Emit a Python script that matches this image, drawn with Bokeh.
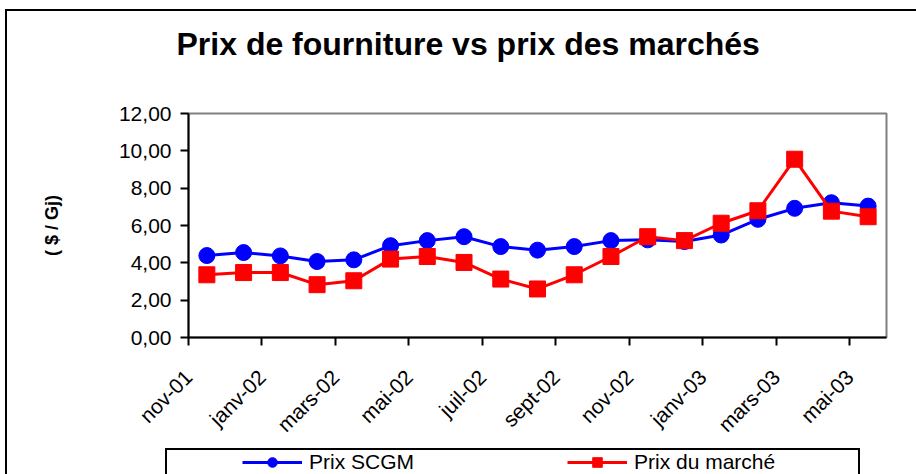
from math import pi
from bokeh.plotting import figure
from bokeh.layouts import column
from bokeh.models import (FixedTicker, Legend, LegendItem, Range1d, Title,
                          InlineStyleSheet)
from bokeh.embed import file_html
from bokeh.resources import INLINE

# ---- data ----
months = ["nov-01", "déc-01", "janv-02", "févr-02", "mars-02", "avr-02", "mai-02",
          "juin-02", "juil-02", "août-02", "sept-02", "oct-02", "nov-02", "déc-02",
          "janv-03", "févr-03", "mars-03", "avr-03", "mai-03"]
prix_scgm = [4.39, 4.55, 4.37, 4.07, 4.16, 4.92, 5.19, 5.40, 4.87, 4.68,
             4.87, 5.19, 5.23, 5.14, 5.49, 6.33, 6.92, 7.22, 7.04]
prix_marche = [3.36, 3.48, 3.48, 2.83, 3.04, 4.20, 4.34, 4.02, 3.13, 2.60,
               3.36, 4.34, 5.40, 5.19, 6.12, 6.79, 9.55, 6.77, 6.47]
y_ticks = [0, 2, 4, 6, 8, 10, 12]
y_tick_labels = ["0,00", "2,00", "4,00", "6,00", "8,00", "10,00", "12,00"]
series_names = ["Prix SCGM", "Prix du marché"]
title_text = "Prix de fourniture vs prix des marchés"
y_label = "( $ / Gj)"

FONT = "Liberation Sans"
n = len(months)
xs = [i + 0.5 for i in range(n)]
x_ticks = list(range(0, n, 2))

css_chart = """
:host { position: relative; overflow: hidden; }
:host::before { content: ""; position: absolute; left: 5px; top: 9px;
  width: 1000px; height: 1000px; border: 2px solid black; pointer-events: none; z-index: 10; }
"""
css_legend = """
:host { position: relative; overflow: hidden; }
:host::before { content: ""; position: absolute; left: 5px; top: -10px;
  width: 1000px; height: 1000px; border: 2px solid black; pointer-events: none; z-index: 10; }
:host::after { content: ""; position: absolute; left: 165px; top: 1px;
  width: 695px; height: 100px; border: 2px solid black; pointer-events: none; z-index: 10; }
"""

# ---- main chart ----
p = figure(width=916, height=447, output_backend="svg", toolbar_location=None,
           x_range=Range1d(0, n), y_range=Range1d(0, 12),
           min_border_left=188, min_border_right=30, min_border_top=113,
           min_border_bottom=109, background_fill_color="white",
           border_fill_color="white",
           stylesheets=[InlineStyleSheet(css=css_chart)])
p.grid.visible = False
p.outline_line_color = "#808080"
p.outline_line_width = 2

p.title.text = title_text
p.title.text_font = FONT
p.title.text_font_size = "32px"
p.title.text_font_style = "bold"
p.title.text_color = "black"
p.title.align = "left"
p.title.offset = -12
p.title.vertical_align = "bottom"
p.title.standoff = 0
p.add_layout(Title(text=" ", text_font_size="10px", standoff=39), "above")

p.yaxis.ticker = FixedTicker(ticks=y_ticks)
p.yaxis.major_label_overrides = dict(zip(y_ticks, y_tick_labels))
p.xaxis.ticker = FixedTicker(ticks=x_ticks)
p.xaxis.major_label_overrides = {t: months[t] for t in x_ticks}
p.xaxis.major_label_orientation = pi / 4
for ax in (p.xaxis[0], p.yaxis[0]):
    ax.axis_line_color = "black"
    ax.axis_line_width = 2
    ax.major_tick_line_color = "black"
    ax.major_tick_line_width = 2
    ax.major_tick_in = 0
    ax.major_tick_out = 8
    ax.minor_tick_line_color = None
    ax.major_label_text_font = FONT
    ax.major_label_text_color = "black"
p.yaxis.major_label_text_font_size = "21px"
p.xaxis.major_label_text_font_size = "21px"
p.yaxis.major_label_standoff = 9
p.xaxis.major_label_standoff = 28
p.yaxis.axis_label = y_label
p.yaxis.axis_label_text_font = FONT
p.yaxis.axis_label_text_font_size = "18px"
p.yaxis.axis_label_text_font_style = "bold"
p.yaxis.axis_label_text_color = "black"
p.yaxis.axis_label_standoff = 54

p.line(xs, prix_scgm, line_color="#0000FF", line_width=3)
p.scatter(xs, prix_scgm, marker="circle", size=16, fill_color="#0000FF",
          line_color="#0000FF")
p.line(xs, prix_marche, line_color="#FF0000", line_width=3)
p.scatter(xs, prix_marche, marker="square", size=16, fill_color="#FF0000",
          line_color="#FF0000", line_width=1)

# ---- legend strip (frame aligned with the chart's frame by the column) ----
q = figure(width=916, height=27, output_backend="svg", toolbar_location=None,
           x_range=Range1d(0, 1), y_range=Range1d(0, 1),
           x_axis_location=None, y_axis_location=None,
           min_border_left=0, min_border_right=0, min_border_top=0,
           min_border_bottom=0, background_fill_color="white",
           border_fill_color="white", outline_line_color=None,
           stylesheets=[InlineStyleSheet(css=css_legend)])
q.grid.visible = False
# legend proxies: one point each, kept outside the strip's visible range
proxy_x, proxy_y = [-5], [-5]
ql1 = q.line(x=proxy_x, y=proxy_y, line_color="#0000FF", line_width=3)
qs1 = q.scatter(x=proxy_x, y=proxy_y, marker="circle", size=12,
                fill_color="#0000FF", line_color="#0000FF")
ql2 = q.line(x=proxy_x, y=proxy_y, line_color="#FF0000", line_width=3)
qs2 = q.scatter(x=proxy_x, y=proxy_y, marker="square", size=12,
                fill_color="#FF0000", line_color="#FF0000")
legend = Legend(items=[LegendItem(label=series_names[0], renderers=[ql1, qs1]),
                       LegendItem(label=series_names[1], renderers=[ql2, qs2])],
                location=(54, 0), orientation="horizontal",
                glyph_width=60, glyph_height=24, label_height=24,
                label_standoff=7, label_width=250, spacing=8, padding=0, margin=0,
                border_line_alpha=0, background_fill_alpha=0,
                label_text_font=FONT, label_text_font_size="21px",
                label_text_color="black")
q.add_layout(legend)

layout = column(p, q, spacing=0)
open("out.html", "w").write(file_html(layout, INLINE))
